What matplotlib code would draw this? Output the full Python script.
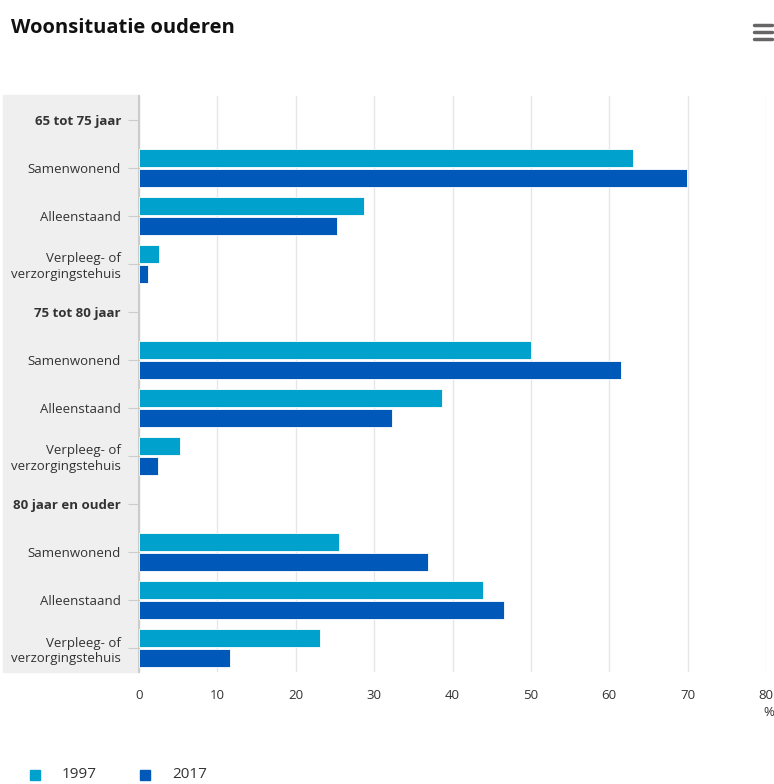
import matplotlib.pyplot as plt
from matplotlib.patches import Rectangle
from matplotlib.lines import Line2D
import numpy as np

plt.rcParams['font.family'] = ['Open Sans', 'DejaVu Sans']

labels = ['65 tot 75 jaar', 'Samenwonend', 'Alleenstaand', 'Verpleeg- of\nverzorgingstehuis',
          '75 tot 80 jaar', 'Samenwonend', 'Alleenstaand', 'Verpleeg- of\nverzorgingstehuis',
          '80 jaar en ouder', 'Samenwonend', 'Alleenstaand', 'Verpleeg- of\nverzorgingstehuis']
headers = [0, 4, 8]
v1997 = [np.nan, 63.0, 28.7, 2.5, np.nan, 50.0, 38.6, 5.2, np.nan, 25.5, 43.9, 23.1]
v2017 = [np.nan, 69.9, 25.3, 1.2, np.nan, 61.5, 32.3, 2.4, np.nan, 36.9, 46.6, 11.6]

c1997 = '#00a1cd'
c2017 = '#0058b8'

W, H = 774, 784
fig = plt.figure(figsize=(W / 100, H / 100), dpi=100)
ax = fig.add_axes([139 / W, 1 - 672 / H, (766 - 139) / W, (672 - 96) / H])
ax.set_zorder(2)

# grey panel behind category labels
fig.patches.append(Rectangle((3 / W, 1 - 672 / H), (139 - 3) / W, (672 - 95) / H,
                             transform=fig.transFigure, color='#efefef', zorder=0))

y = np.arange(len(labels))
ax.barh(y - 0.205, v1997, height=0.375, color=c1997, edgecolor='white', linewidth=0.6, zorder=3)
ax.barh(y + 0.205, v2017, height=0.375, color=c2017, edgecolor='white', linewidth=0.6, zorder=3)

ax.set_ylim(len(labels) - 0.5, -0.5)
ax.set_xlim(0, 80)
ax.set_xticks(range(0, 81, 10))
ax.set_yticks(y)
ax.set_yticklabels(labels, fontsize=9.5, color='#333333', linespacing=1.25)
for i in headers:
    ax.get_yticklabels()[i].set_fontweight('bold')
ax.tick_params(axis='y', length=8, color='#cccccc', pad=5)
ax.tick_params(axis='x', length=0, labelsize=9.5, labelcolor='#333333', pad=12)
ax.grid(axis='x', color='#e6e6e6', linewidth=1, zorder=0)
ax.set_facecolor('none')
for s in ['top', 'right', 'bottom']:
    ax.spines[s].set_visible(False)
ax.spines['left'].set_color('#cccccc')
ax.spines['left'].set_linewidth(1.5)

fig.text(763 / W, 1 - 713 / H, '%', fontsize=9.5, color='#333333', ha='left', va='center')
fig.text(11 / W, 1 - 28 / H, 'Woonsituatie ouderen', fontsize=14.5, fontweight='bold',
         color='#111111', va='center')

# menu icon
for yy in (25, 32, 39):
    fig.add_artist(Line2D([754 / W, 772 / W], [1 - yy / H, 1 - yy / H], color='#666666',
                          linewidth=2.5, solid_capstyle='round'))

# legend
for xx, lab, col in [(35, '1997', c1997), (145, '2017', c2017)]:
    fig.patches.append(Rectangle(((xx - 5) / W, 1 - 780 / H), 10 / W, 10 / H,
                                 transform=fig.transFigure, color=col))
    fig.text((xx + 27) / W, 1 - 775 / H, lab, fontsize=11, color='#333333', va='center')

fig.savefig('out.png', dpi=100)
